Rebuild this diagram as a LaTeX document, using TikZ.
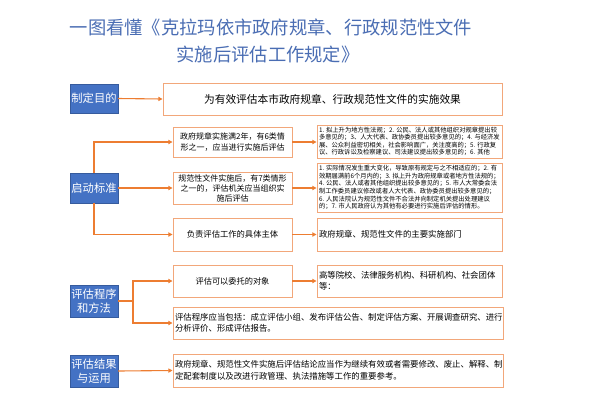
\documentclass[tikz,border=0pt]{standalone}
\usepackage{fontspec}
\setmainfont{Noto Sans CJK SC}
\usetikzlibrary{arrows.meta}
\definecolor{titleblue}{HTML}{4A6DB3}
\definecolor{boxblue}{HTML}{4472C4}
\definecolor{lineorange}{HTML}{ED7D31}
\definecolor{borderorange}{HTML}{F2A77A}
\tikzset{
  bluebox/.style={fill=boxblue, draw=boxblue!80!black, line width=0.4pt, text=white,
    minimum width=48pt, inner sep=0pt, align=center,
    font=\fontsize{11.3}{15}\selectfont},
  obox/.style={draw=borderorange, line width=0.9pt, fill=white, inner sep=0pt},
  conn/.style={draw=lineorange, line width=1.1pt},
  arr/.style={conn, -{Triangle[length=4.2pt,width=4.2pt]}},
}
\begin{document}
\begin{tikzpicture}[x=1pt,y=-1pt]
\useasboundingbox (0,0) rectangle (589,416);
% title
\node[text=titleblue, font=\fontsize{18.3}{22}\selectfont, inner sep=0pt] (t1) at (271,27) {一图看懂《克拉玛依市政府规章、行政规范性文件};
\node[text=titleblue, font=\fontsize{18.3}{22}\selectfont, inner sep=0pt] (t2) at (268,55) {实施后评估工作规定》};
% left blue boxes
\node[bluebox, minimum height=29pt] (purpose) at (94,98.5) {制定目的};
\node[bluebox, minimum height=30pt] (start) at (94,188) {启动标准};
\node[bluebox, minimum height=32pt, font=\fontsize{11.3}{14.5}\selectfont] (proc) at (94,301) {评估程序\\和方法};
\node[bluebox, minimum height=32pt, font=\fontsize{11.3}{14.5}\selectfont] (result) at (94,371) {评估结果\\与运用};
% goal
\node[obox, minimum width=339pt, minimum height=32pt, font=\fontsize{10.7}{13}\selectfont] (goal) at (332.5,99) {为有效评估本市政府规章、行政规范性文件的实施效果};
% middle boxes
\node[obox, minimum width=119pt, minimum height=30pt, align=center, font=\fontsize{8}{11}\selectfont] (A) at (232.5,142) {政府规章实施满2年，有6类情\\形之一，应当进行实施后评估};
\node[obox, minimum width=119pt, minimum height=32pt, align=center, font=\fontsize{8}{10}\selectfont] (B) at (232.5,188) {规范性文件实施后，有7类情形\\之一的，评估机关应当组织实\\施后评估};
\node[obox, minimum width=119pt, minimum height=33pt, font=\fontsize{8.3}{10}\selectfont] (C) at (232.5,234.5) {负责评估工作的具体主体};
\node[obox, minimum width=119pt, minimum height=32pt, font=\fontsize{8.2}{10}\selectfont] (D) at (232.5,281) {评估可以委托的对象};
% right boxes
\node[obox, minimum width=185pt, minimum height=33pt] (Ar) at (409.5,141.5) {\begin{minipage}{181pt}\fontsize{6.3}{7.5}\selectfont
1. 拟上升为地方性法规；2. 公民、法人或其他组织对规章提出较\\
多意见的；3、人大代表、政协委员提出较多意见的；4. 与经济发\\
展、公众利益密切相关，社会影响面广，关注度高的；5. 行政复\\
议、行政诉讼及检察建议、司法建议提出较多意见的；6. 其他\end{minipage}};
\node[obox, minimum width=185pt, minimum height=49pt] (Br) at (409.5,187.5) {\begin{minipage}{181pt}\fontsize{6.3}{7.6}\selectfont
1. 实际情况发生重大变化，导致原有规定与之不相适应的；2. 有\\
效期届满前6个月内的；3. 拟上升为政府规章或者地方性法规的；\\
4. 公民、法人或者其他组织提出较多意见的；5. 市人大常委会法\\
制工作委员建议修改或者人大代表、政协委员提出较多意见的；\\
6. 人民法院认为规范性文件不合法并向制定机关提出处理建议\\
的；7. 市人民政府认为其他有必要进行实施后评估的情形。\end{minipage}};
\node[obox, minimum width=185pt, minimum height=33pt] (Cr) at (409.5,234.5) {\begin{minipage}{181pt}\fontsize{8.4}{11}\selectfont
政府规章、规范性文件的主要实施部门\end{minipage}};
\node[obox, minimum width=185pt, minimum height=32pt] (Dr) at (409.5,281) {\begin{minipage}{181pt}\fontsize{8.4}{11}\selectfont
高等院校、法律服务机构、科研机构、社会团体\\等：\end{minipage}};
% wide boxes
\node[obox, minimum width=330pt, minimum height=32pt] (E) at (338,323) {\begin{minipage}{326pt}\fontsize{8.4}{11.5}\selectfont
评估程序应当包括：成立评估小组、发布评估公告、制定评估方案、开展调查研究、进行\\
分析评价、形成评估报告。\end{minipage}};
\node[obox, minimum width=330pt, minimum height=33pt] (F) at (338,370.5) {\begin{minipage}{326pt}\fontsize{8.4}{11.5}\selectfont
政府规章、规范性文件实施后评估结论应当作为继续有效或者需要修改、废止、解释、制\\
定配套制度以及改进行政管理、执法措施等工作的重要参考。\end{minipage}};
% connectors
\draw[arr] (purpose.east) -- (goal.west);
\draw[arr] (start.north) |- (A.west);
\draw[arr] (start.east) -- (B.west);
\draw[arr] (start.south) |- (C.west);
\draw[arr] (A.east) -- (A.east -| Ar.west);
\draw[arr] (B.east) -- (B.east -| Br.west);
\draw[arr] (C.east) -- (Cr.west);
\draw[arr] (D.east) -- (Dr.west);
\coordinate (j) at (133,301);
\draw[conn] (proc.east) -- (j);
\draw[arr] (j) |- (D.west);
\draw[arr] (j) |- (E.west);
\draw[arr] (result.east) -- (F.west);
\end{tikzpicture}
\end{document}
